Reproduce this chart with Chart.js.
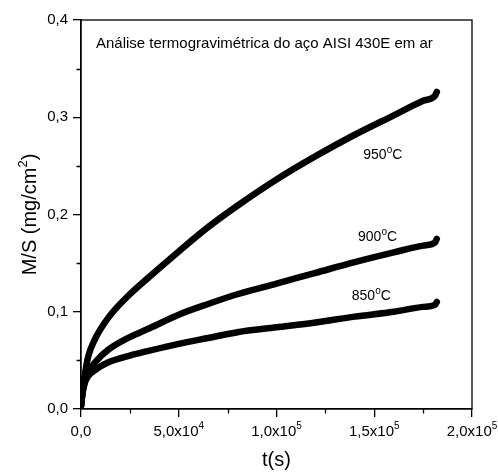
<!DOCTYPE html>
<html>
<head>
<meta charset="utf-8">
<script src="https://cdn.jsdelivr.net/npm/chart.js@4.4.1/dist/chart.umd.min.js"></script>
<style>
  html, body { margin: 0; padding: 0; background: #fff; }
  #wrap { width: 498px; height: 475px; position: relative; }
</style>
</head>
<body>
<div id="wrap"><canvas id="tgaChart"></canvas></div>
<script>
// tempo (s) e ganho de massa por área (mg/cm2)
const timeS   = [0, 500, 1000, 2000, 3700, 7200, 14000, 25000, 35000, 50000, 65000, 80000, 100000, 120000, 140000, 160000, 175000, 181000, 182000];
const mass950 = [0.003, 0.013, 0.022, 0.036, 0.054, 0.072, 0.094, 0.118, 0.136, 0.162, 0.187, 0.209, 0.236, 0.260, 0.282, 0.302, 0.317, 0.322, 0.326];
const mass900 = [0.003, 0.012, 0.019, 0.029, 0.038, 0.048, 0.061, 0.074, 0.083, 0.097, 0.108, 0.118, 0.129, 0.140, 0.151, 0.161, 0.168, 0.171, 0.175];
const mass850 = [0.003, 0.012, 0.019, 0.027, 0.034, 0.040, 0.048, 0.055, 0.060, 0.067, 0.073, 0.079, 0.084, 0.089, 0.095, 0.100, 0.105, 0.107, 0.110];

const seriesNames = ['950', '900', '850'];
// posição (t, M/S) do rótulo de cada curva
const labelT = [144400, 141700, 138500];
const labelV = [0.257, 0.173, 0.112];

const xTickVals = [0, 50000, 100000, 150000, 200000];
const xTickMant = ['0,0', '5,0', '1,0', '1,5', '2,0'];
const xTickExp  = ['', '4', '5', '5', '5'];
const xMinorTicks = [25000, 75000, 125000, 175000];
const yMinorTicks = [0.05, 0.15, 0.25, 0.35];

const chartTitle = 'Análise termogravimétrica do aço AISI 430E em ar';
const FONT = 'Arial, "Liberation Sans", sans-serif';

function toXY(ys) {
  return timeS.map((t, i) => ({ x: t, y: ys[i] }));
}

const lineStyle = {
  borderColor: '#000',
  backgroundColor: '#000',
  borderWidth: 6.5,
  borderCapStyle: 'round',
  borderJoinStyle: 'round',
  pointRadius: 0,
  cubicInterpolationMode: 'monotone',
  fill: false
};

const decor = {
  id: 'decor',
  afterDraw(chart) {
    const { ctx, chartArea: a, scales } = chart;
    const xs = scales.x, ys = scales.y;
    ctx.save();
    // frame
    ctx.strokeStyle = '#000';
    ctx.lineWidth = 1.3;
    ctx.strokeRect(a.left, a.top, a.right - a.left, a.bottom - a.top);

    // minor ticks
    ctx.beginPath();
    xMinorTicks.forEach(v => {
      const px = Math.round(xs.getPixelForValue(v)) + 0.5;
      ctx.moveTo(px, a.bottom); ctx.lineTo(px, a.bottom + 4.5);
    });
    yMinorTicks.forEach(v => {
      const py = Math.round(ys.getPixelForValue(v)) + 0.5;
      ctx.moveTo(a.left, py); ctx.lineTo(a.left - 4.5, py);
    });
    ctx.stroke();

    ctx.fillStyle = '#000';
    // x tick labels with superscript exponents
    xTickVals.forEach((v, i) => {
      const px = xs.getPixelForValue(v);
      const y = a.bottom + 27;
      ctx.font = '15px ' + FONT;
      let txt = xTickMant[i];
      if (xTickExp[i]) txt += 'x10';
      const w1 = ctx.measureText(txt).width;
      ctx.font = '10px ' + FONT;
      const w2 = xTickExp[i] ? ctx.measureText(xTickExp[i]).width : 0;
      const x0 = px - (w1 + w2) / 2;
      ctx.font = '15px ' + FONT;
      ctx.textBaseline = 'alphabetic';
      ctx.textAlign = 'left';
      ctx.fillText(txt, x0, y);
      if (xTickExp[i]) {
        ctx.font = '10px ' + FONT;
        ctx.fillText(xTickExp[i], x0 + w1, y - 7);
      }
    });

    // axis titles
    ctx.font = '20px ' + FONT;
    ctx.textAlign = 'center';
    ctx.textBaseline = 'alphabetic';
    ctx.fillText('t(s)', (a.left + a.right) / 2, 466);

    ctx.save();
    ctx.translate(36, (a.top + a.bottom) / 2);
    ctx.rotate(-Math.PI / 2);
    const t1 = 'M/S (mg/cm', t2 = '2', t3 = ')';
    ctx.font = '20px ' + FONT;
    const w1 = ctx.measureText(t1).width;
    const w3 = ctx.measureText(t3).width;
    ctx.font = '13px ' + FONT;
    const w2 = ctx.measureText(t2).width;
    const x0 = -(w1 + w2 + w3) / 2;
    ctx.textAlign = 'left';
    ctx.font = '20px ' + FONT;
    ctx.fillText(t1, x0, 0);
    ctx.font = '13px ' + FONT;
    ctx.fillText(t2, x0 + w1, -9);
    ctx.font = '20px ' + FONT;
    ctx.fillText(t3, x0 + w1 + w2, 0);
    ctx.restore();

    // title inside plot
    ctx.font = '15px ' + FONT;
    ctx.textAlign = 'left';
    ctx.textBaseline = 'alphabetic';
    ctx.fillText(chartTitle, 96, 48);

    // curve labels, e.g. 950 with raised small o and C
    seriesNames.forEach((n, i) => {
      const px = xs.getPixelForValue(labelT[i]);
      const py = ys.getPixelForValue(labelV[i]);
      ctx.textBaseline = 'alphabetic';
      ctx.font = '14px ' + FONT;
      const wn = ctx.measureText(n).width;
      ctx.fillText(n, px, py);
      ctx.font = '10px ' + FONT;
      const wo = ctx.measureText('o').width;
      ctx.fillText('o', px + wn, py - 6);
      ctx.font = '14px ' + FONT;
      ctx.fillText('C', px + wn + wo, py);
    });
    ctx.restore();
  }
};

new Chart(document.getElementById('tgaChart'), {
  type: 'line',
  data: {
    datasets: [
      Object.assign({ label: '950 °C', data: toXY(mass950) }, lineStyle),
      Object.assign({ label: '900 °C', data: toXY(mass900) }, lineStyle),
      Object.assign({ label: '850 °C', data: toXY(mass850) }, lineStyle)
    ]
  },
  options: {
    responsive: true,
    maintainAspectRatio: false,
    animation: false,
    layout: { padding: { top: 20, right: 26, left: 0, bottom: 0 } },
    plugins: { legend: { display: false }, tooltip: { enabled: false } },
    scales: {
      x: {
        type: 'linear',
        min: 0,
        max: 200000,
        afterFit: s => { s.height = 66; },
        ticks: {
          stepSize: 50000,
          autoSkip: false,
          maxRotation: 0,
          callback: () => ''
        },
        grid: { drawOnChartArea: false, drawTicks: true, tickLength: 8, color: '#000', lineWidth: 1.3 },
        border: { display: true, color: '#000', width: 1.3 }
      },
      y: {
        type: 'linear',
        min: 0,
        max: 0.4,
        afterFit: s => { s.width = 81; },
        ticks: {
          stepSize: 0.1,
          autoSkip: false,
          color: '#000',
          padding: 5,
          font: { family: FONT, size: 15 },
          callback: v => v.toFixed(1).replace('.', ',')
        },
        grid: { drawOnChartArea: false, drawTicks: true, tickLength: 8, color: '#000', lineWidth: 1.3 },
        border: { display: true, color: '#000', width: 1.3 }
      }
    }
  },
  plugins: [decor]
});
</script>
</body>
</html>
